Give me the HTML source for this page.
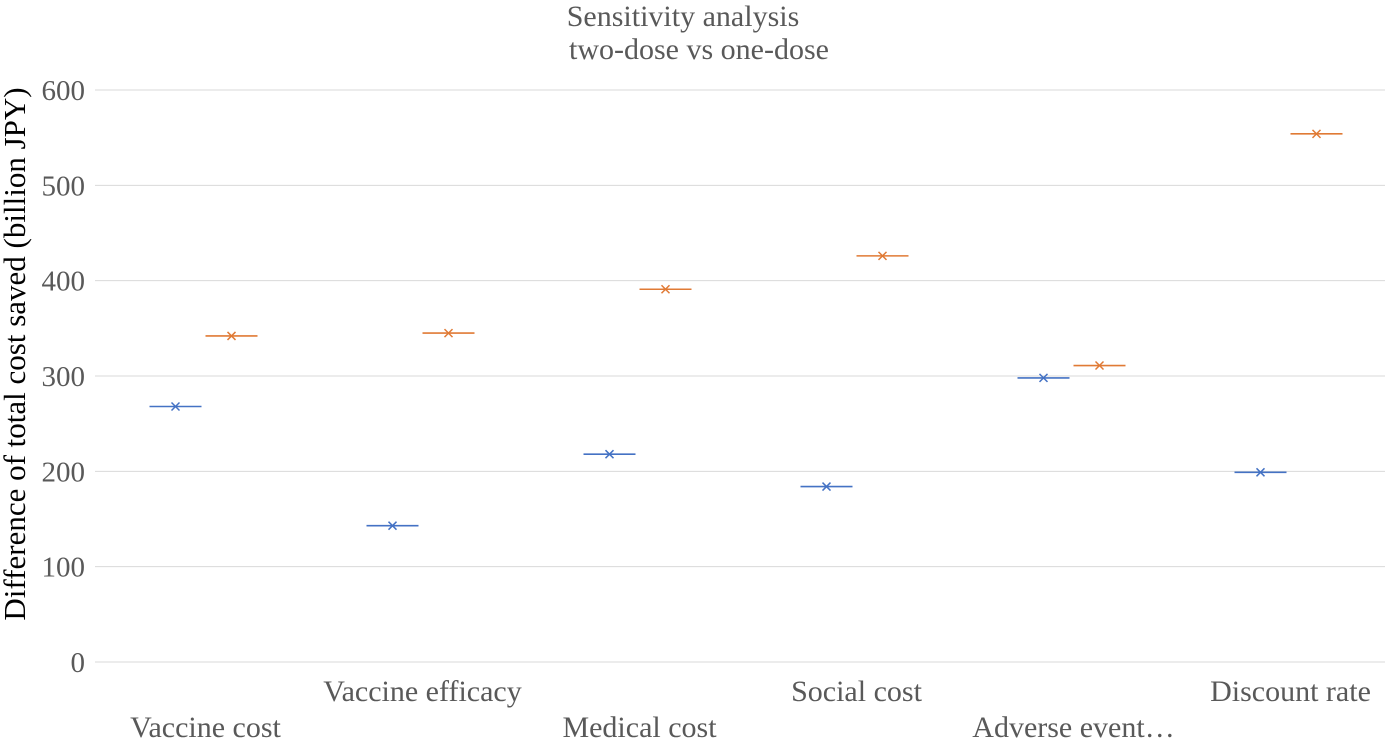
<!DOCTYPE html>
<html><head><meta charset="utf-8"><style>
body{margin:0;background:#fff;}
svg text{font-family:"Liberation Serif",serif;fill:#595959;}
</style></head><body>
<svg id="chart" width="1400" height="738" viewBox="0 0 1400 738">
<text x="683" y="26" font-size="30" text-anchor="middle">Sensitivity analysis</text>
<text x="699" y="59" font-size="30" text-anchor="middle">two-dose vs  one-dose</text>
<text transform="translate(25,354) rotate(-90)" font-size="31" text-anchor="middle" style="fill:#000">Difference of total cost saved (billion JPY)</text>
<g id="grid"></g><g id="marks"></g><g id="xlabels"></g>
</svg>
<script>
const categories=["Vaccine cost","Vaccine efficacy","Medical cost","Social cost","Adverse event…","Discount rate"];
const seriesLow=[268,143,218,184,298,199];
const seriesHigh=[342,345,391,426,311,554];
const yTicks=[0,100,200,300,400,500,600];
const ns="http://www.w3.org/2000/svg";
const L=95,R=1385,T=90,B=662,yMax=600;
const y=v=>B-(v/yMax)*(B-T);
const bw=217;
const x=i=>203.5+bw*i;
function mk(tag,attrs,parent,text){const e=document.createElementNS(ns,tag);for(const k in attrs)e.setAttribute(k,attrs[k]);if(text!==undefined)e.textContent=text;parent.appendChild(e);return e;}
const grid=document.getElementById('grid'),marks=document.getElementById('marks'),xl=document.getElementById('xlabels');
yTicks.forEach(t=>{
 const g=mk('line',{x1:L,x2:R,y1:y(t),y2:y(t),stroke:'#d9d9d9','stroke-width':1},grid);
 
 
 const lb=mk('text',{x:85,y:y(t)+10,'font-size':29,'text-anchor':'end'},grid,t);
 
 
});
function drawMark(cx,v,color,name){
 const g=mk('g',{},marks);
 
 
 const yy=y(v);
 mk('line',{x1:cx-26,x2:cx+26,y1:yy,y2:yy,stroke:color,'stroke-width':1.6},g);
 mk('path',{d:`M${cx-4},${yy-4}L${cx+4},${yy+4}M${cx-4},${yy+4}L${cx+4},${yy-4}`,stroke:color,'stroke-width':1.5},g);
}
categories.forEach((c,i)=>{
 drawMark(x(i)-28,seriesLow[i],'#4472c4','low-marker-'+i);
 drawMark(x(i)+28,seriesHigh[i],'#e07a35','high-marker-'+i);
 const t=mk('text',{x:x(i)+2,y:i%2===0?737:701,'font-size':30,'text-anchor':'middle'},xl,c);
 
 
});
</script>
</body></html>
